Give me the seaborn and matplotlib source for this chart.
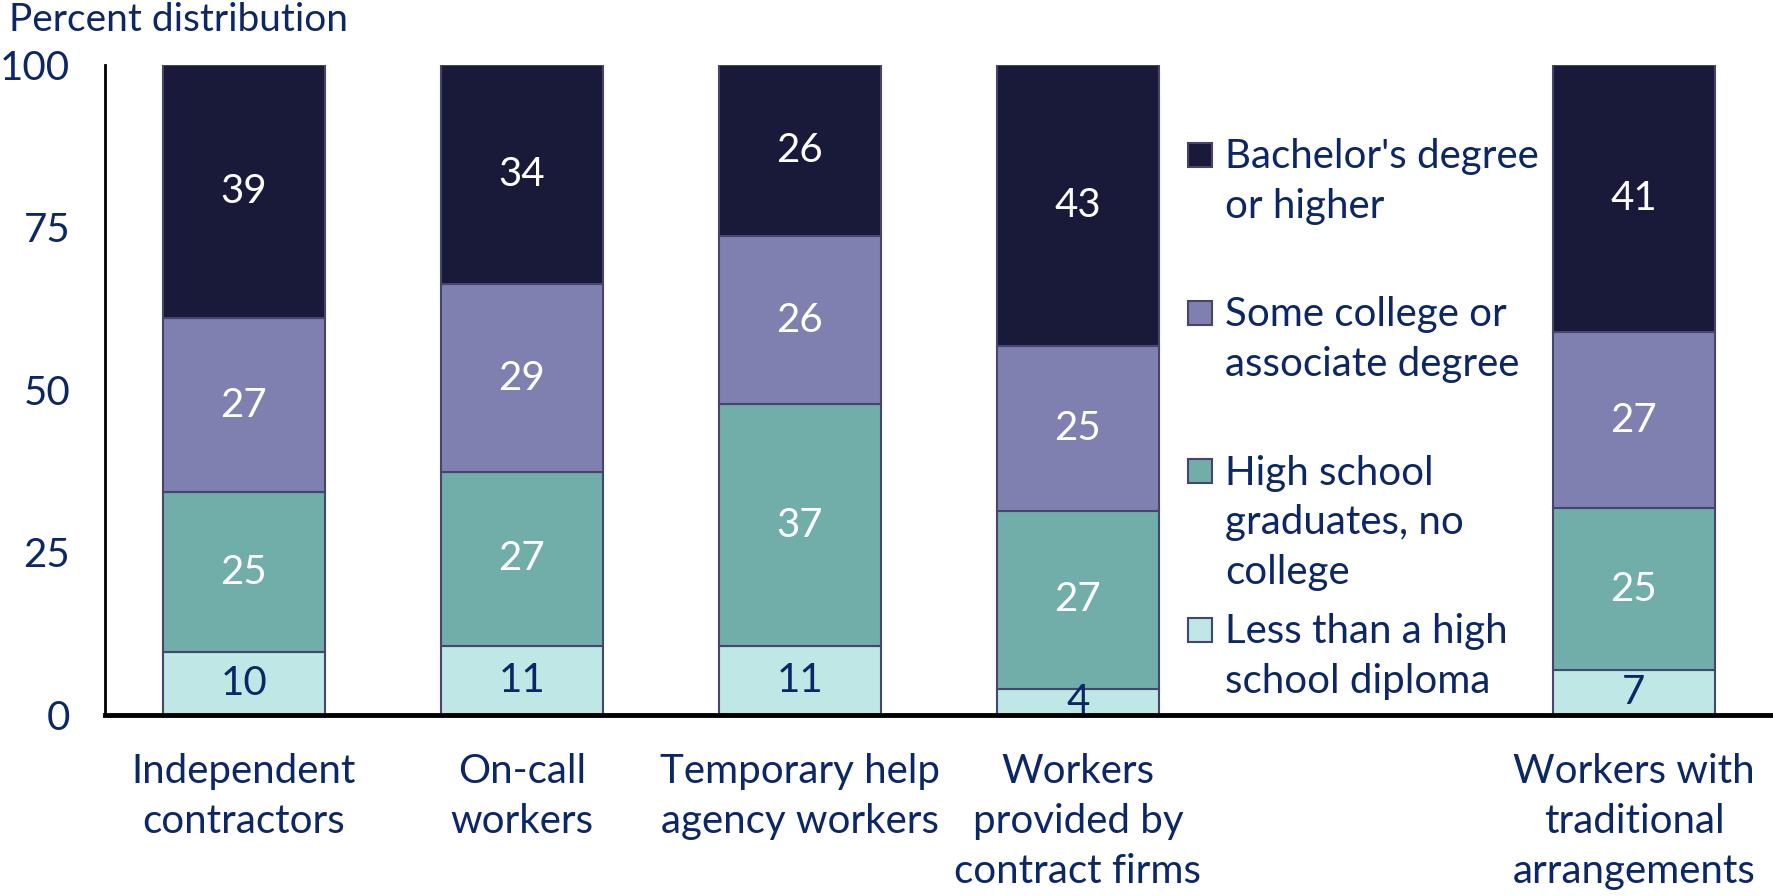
import numpy as np
import pandas as pd
import matplotlib
matplotlib.use("Agg")
import matplotlib.pyplot as plt
import seaborn as sns

# data (percent distribution by educational attainment)
groups = ["Independent\ncontractors", "On-call\nworkers", "Temporary help\nagency workers",
          "Workers\nprovided by\ncontract firms", "Workers with\ntraditional\narrangements"]
slot_order = [groups[0], groups[1], groups[2], groups[3], " ", groups[4]]

levels = ["Less than a high\nschool diploma", "High school\ngraduates, no\ncollege",
          "Some college or\nassociate degree", "Bachelor's degree\nor higher"]
less_hs = [9.6, 10.6, 10.6, 4.0, 6.8]
hs_grad = [24.6, 26.7, 37.1, 27.3, 25.0]
some_college = [26.8, 28.9, 25.9, 25.4, 27.0]
bachelors = [39.0, 33.8, 26.4, 43.3, 41.2]
level_colors = ["#bfe7e6", "#71aeaa", "#8080b0", "#19193a"]
label_colors = ["#0c2766", "white", "white", "white"]

navy = "#0c2766"
edge = "#45456e"

sns.set_style("white")
plt.rcParams['font.family'] = ['Lato', 'DejaVu Sans']

fig = plt.figure(figsize=(17.73, 8.96), dpi=100)
ax = fig.add_axes([0.0592, 0.2025, 0.9408, 0.7255])

series = [less_hs, hs_grad, some_college, bachelors]
bottom = np.zeros(len(groups))
for vals, col, tcol in zip(series, level_colors, label_colors):
    df = pd.DataFrame({"group": groups, "value": vals})
    sns.barplot(data=df, x="group", y="value", order=slot_order, errorbar=None,
                width=0.585, color=col, saturation=1, bottom=bottom.copy(),
                edgecolor=edge, linewidth=1.5, ax=ax)
    for i, g in enumerate(groups):
        xpos = slot_order.index(g)
        ax.text(xpos, bottom[i] + vals[i] / 2, f"{vals[i]:.0f}", ha="center", va="center",
                color=tcol, fontsize=29)
    bottom = bottom + np.array(vals)

ax.set_xlim(-0.5, 5.5)
ax.set_ylim(0, 100)
ax.set_yticks([0, 25, 50, 75, 100])
ax.set_yticks([100], minor=True)
ax.tick_params(axis="y", which="major", length=0, pad=25, labelsize=29, labelcolor=navy)
ax.tick_params(axis="y", which="minor", direction="in", length=13, width=2, color="black")
ax.tick_params(axis="x", length=0, pad=28, labelsize=29, labelcolor=navy)
for t in ax.get_xticklabels():
    t.set_linespacing(1.42)
ax.set_xlabel("")
ax.set_ylabel("")
for s in ["top", "right"]:
    ax.spines[s].set_visible(False)
ax.spines["left"].set_linewidth(2)
ax.spines["left"].set_color("black")
ax.spines["bottom"].set_linewidth(3.5)
ax.spines["bottom"].set_color("black")

fig.text(0.005, 0.978, "Percent distribution", ha="left", va="center", fontsize=28, color=navy)

# legend drawn by hand, entries evenly spaced in the empty slot
leg_y = [86.1, 61.8, 37.4, 13.0]
for y, lab, col in zip(leg_y, levels[::-1], level_colors[::-1]):
    ax.plot([3.44], [y], marker="s", markersize=17, markerfacecolor=col,
            markeredgecolor=edge, markeredgewidth=1.5, clip_on=False)
    ax.text(3.53, y + 2.6, lab, ha="left", va="top", fontsize=29, color=navy,
            linespacing=1.42)

fig.savefig("out.png", dpi=100)
